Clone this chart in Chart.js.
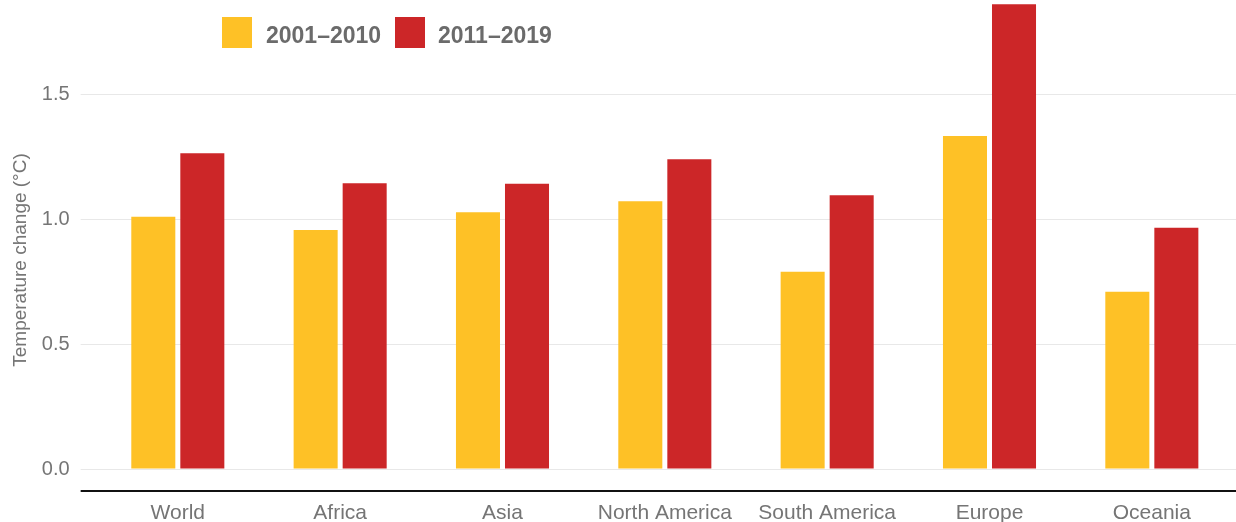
<!DOCTYPE html>
<html>
<head>
<meta charset="utf-8">
<script src="https://cdn.jsdelivr.net/npm/chart.js@4"></script>
<style>
  html, body { margin: 0; padding: 0; background: #fff; }
  #wrap { position: relative; width: 1236px; height: 522px; font-family: 'Liberation Sans', Arial, sans-serif; }
  canvas { position: absolute; left: 0; top: 0; }
  .sw { position: absolute; top: 17px; width: 30px; height: 31px; }
  .lt { position: absolute; top: 20px; height: 31px; line-height: 31px; font-size: 23px; font-weight: bold; color: #6b6b6b; white-space: nowrap; }
  #ytitle { position: absolute; left: -130px; top: 248px; width: 300px; height: 24px; line-height: 24px; text-align: center;
            font-size: 19px; color: #757575; transform: rotate(-90deg); white-space: nowrap; }
</style>
</head>
<body>
<div id="wrap">
  <canvas id="c" width="1236" height="522"></canvas>
  <div class="sw" style="left:222px;background:#fec126"></div>
  <div class="lt" style="left:266px">2001–2010</div>
  <div class="sw" style="left:395px;background:#cc2628"></div>
  <div class="lt" style="left:438px">2011–2019</div>
  <div id="ytitle">Temperature change (°C)</div>
</div>
<script>
const categories = ['World', 'Africa', 'Asia', 'North America', 'South America', 'Europe', 'Oceania'];
const seriesNames = ['2001–2010', '2011–2019'];
const values2001_2010 = [1.009, 0.956, 1.027, 1.071, 0.789, 1.332, 0.709];
const values2011_2019 = [1.263, 1.143, 1.141, 1.239, 1.095, 1.859, 0.965];
const yTicks = [0, 0.5, 1.0, 1.5];
const yMin = -0.088;
const yMax = 1.86;

const gridColor = '#e8e8e8';
const setTicks = (scale) => {
  scale.ticks = [yMin].concat(yTicks).map(v => ({ value: v }));
};
const gridCol = (ctx) => (ctx.tick && ctx.tick.value < 0 ? '#111111' : gridColor);
const gridW = (ctx) => (ctx.tick && ctx.tick.value < 0 ? 2 : 1);
const noPad = (s) => { s.paddingTop = 0; s.paddingBottom = 0; s.paddingLeft = 0; s.paddingRight = 0; };

new Chart(document.getElementById('c'), {
  type: 'bar',
  data: {
    labels: categories,
    datasets: [
      { label: seriesNames[0], data: values2001_2010, backgroundColor: '#fec126', borderWidth: 0 },
      { label: seriesNames[1], data: values2011_2019, backgroundColor: '#cc2628', borderWidth: 0 }
    ]
  },
  options: {
    responsive: false,
    animation: false,
    devicePixelRatio: 1,
    layout: { padding: { top: 4, left: 0, right: 0, bottom: 0 } },
    datasets: { bar: { barPercentage: 0.898, categoryPercentage: 0.604 } },
    plugins: { legend: { display: false }, tooltip: { enabled: false } },
    scales: {
      x: {
        grid: { display: false, drawTicks: false },
        border: { display: false },
        ticks: { color: '#757575', font: { size: 21, family: "'Liberation Sans', Arial, sans-serif" }, padding: 10, maxRotation: 0, autoSkip: false },
        afterFit: (s) => { s.height = 31; noPad(s); }
      },
      y: {
        min: yMin, max: yMax,
        afterBuildTicks: setTicks,
        grid: { color: gridCol, lineWidth: gridW, tickLength: 16, drawTicks: true },
        border: { display: false },
        ticks: {
          color: '#757575', padding: 11,
          font: { size: 20, family: "'Liberation Sans', Arial, sans-serif" },
          callback: (v) => (v < 0 ? '' : Number(v).toFixed(1))
        },
        afterFit: (s) => { s.width = 96.65; noPad(s); }
      },
      yR: {
        position: 'right',
        min: yMin, max: yMax,
        afterBuildTicks: setTicks,
        grid: { color: gridCol, lineWidth: gridW, tickLength: 3, drawTicks: true, drawOnChartArea: false },
        border: { display: false },
        ticks: { display: false },
        afterFit: (s) => { s.width = 3; noPad(s); }
      }
    }
  }
});
</script>
</body>
</html>
